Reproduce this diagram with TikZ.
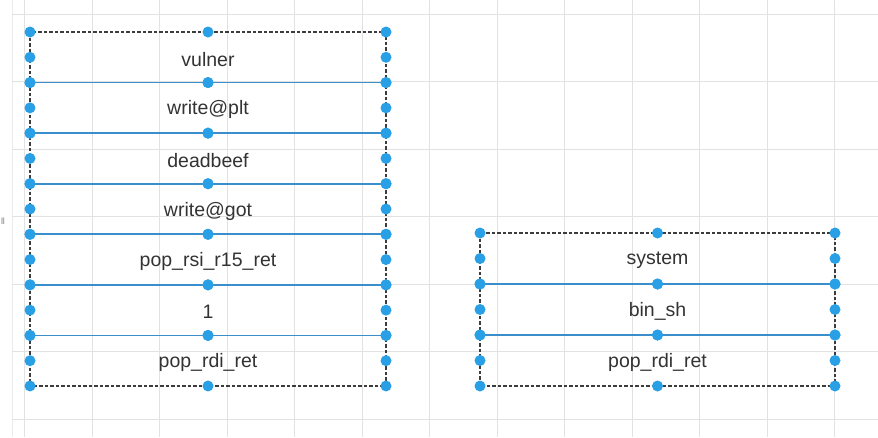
\documentclass[tikz,border=0pt]{standalone}
\usepackage{fontspec}
\setmainfont{Liberation Sans}
\definecolor{gridc}{HTML}{E2E2E2}
\definecolor{txt}{HTML}{333333}
\definecolor{handle}{HTML}{29A0E6}
\definecolor{divc}{HTML}{3A8ECC}
\definecolor{edgec}{HTML}{3C3C3C}
\tikzset{
  cell/.style={minimum height=50.57pt, inner sep=0pt, outer sep=0pt,
    font=\fontsize{19.5pt}{22pt}\selectfont, text=txt},
  lcell/.style={cell, minimum width=356pt},
  rcell/.style={cell, minimum width=355pt, minimum height=51pt},
  celltext/.style={inner sep=0pt, font=\fontsize{19.5pt}{22pt}\selectfont, text=txt},
  gridline/.style={draw=gridc, line width=1pt},
  outline/.style={draw=edgec, line width=1.3pt, dash pattern=on 3.5pt off 2pt},
  divider/.style={draw=divc, line width=1.7pt},
  handledot/.style={fill=handle}
}
\begin{document}
\begin{tikzpicture}[x=1pt,y=-1pt]
\useasboundingbox (0,0) rectangle (878,437);
\fill[white] (0,0) rectangle (878,437);
% grid
\draw[gridline, draw=gridc!70] (12,0) -- (12,437);
\foreach \k in {0,...,12} {
  \pgfmathsetmacro{\gx}{24.5+67.5*\k}
  \draw[gridline] (\gx,0) -- (\gx,437);
}
\foreach \k in {0,...,6} {
  \pgfmathsetmacro{\gy}{14+67.5*\k}
  \draw[gridline] (12,\gy) -- (878,\gy);
}
\node[font=\fontsize{9pt}{10pt}\selectfont, text=gray, inner sep=0pt] (mark) at (3,221) {ll};

% left stack
\foreach \t [count=\i] in {vulner,write@plt,deadbeef,write@got,pop\_rsi\_r15\_ret,1,pop\_rdi\_ret} {
  \pgfmathsetmacro{\cy}{32+50.57*(\i-0.5)}
  \node[lcell] (L\i) at (208,\cy) {};
  \node[celltext] (LT\i) at ([yshift=-2pt]L\i.center) {\t};
}
% right stack
\foreach \t [count=\i] in {system,bin\_sh,pop\_rdi\_ret} {
  \pgfmathsetmacro{\cy}{233+51*(\i-0.5)}
  \node[rcell] (R\i) at (657.5,\cy) {};
  \node[celltext] (RT\i) at ([yshift=-2pt]R\i.center) {\t};
}

% outlines
\draw[outline] (L1.north west) rectangle (L7.south east);
\draw[outline] (R1.north west) rectangle (R3.south east);
% dividers
\foreach \i in {1,...,6} \draw[divider] (L\i.south west) -- (L\i.south east);
\foreach \i in {1,2} \draw[divider] (R\i.south west) -- (R\i.south east);

% handles
\foreach \n in {L1,L2,L3,L4,L5,L6,L7,R1,R2,R3} {
  \foreach \a in {north west,north,north east,west,east,south west,south,south east}
    \fill[handledot] (\n.\a) circle (5.5pt);
}
\end{tikzpicture}
\end{document}
